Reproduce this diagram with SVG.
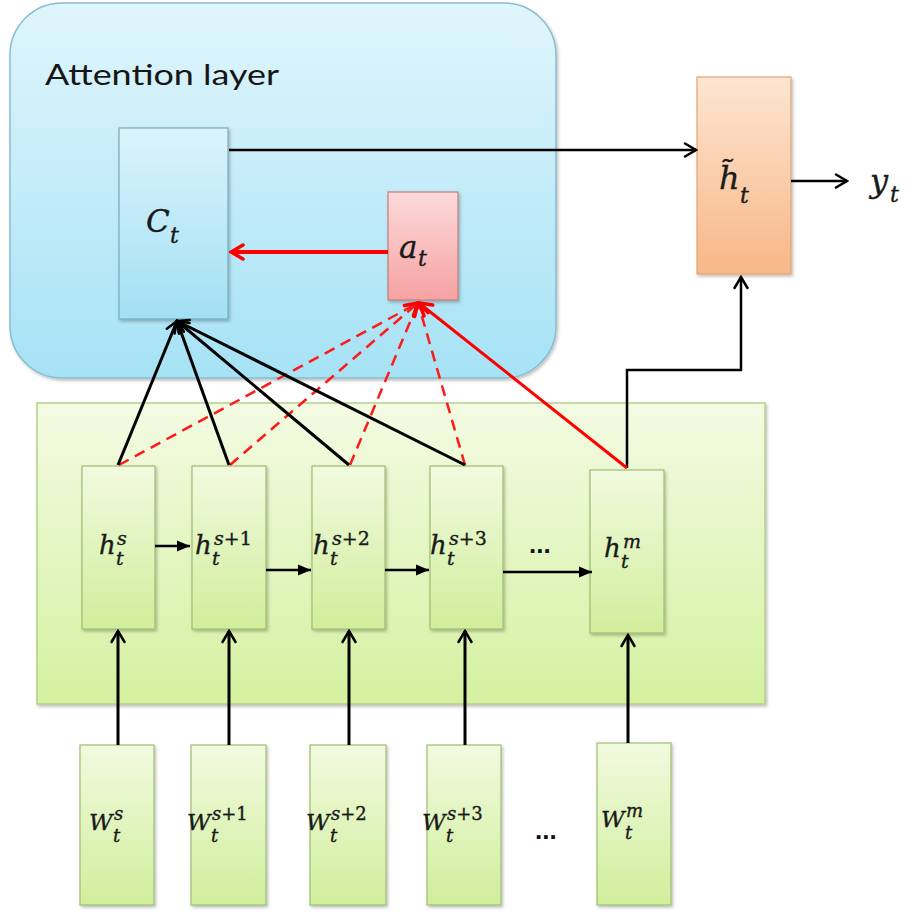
<svg xmlns="http://www.w3.org/2000/svg" width="917" height="912" viewBox="0 0 917 912">
  <defs>
    <linearGradient id="gBlueLayer" x1="0" y1="0" x2="0" y2="1">
      <stop offset="0" stop-color="#e0f5fc"/>
      <stop offset="1" stop-color="#a6e2f5"/>
    </linearGradient>
    <linearGradient id="gBlueBox" x1="0" y1="0" x2="0" y2="1">
      <stop offset="0" stop-color="#dcf4fb"/>
      <stop offset="1" stop-color="#a2e0f3"/>
    </linearGradient>
    <linearGradient id="gPink" x1="0" y1="0" x2="0" y2="1">
      <stop offset="0" stop-color="#fddada"/>
      <stop offset="1" stop-color="#f6a2a2"/>
    </linearGradient>
    <linearGradient id="gOrange" x1="0" y1="0" x2="0" y2="1">
      <stop offset="0" stop-color="#fde5d1"/>
      <stop offset="1" stop-color="#f8b787"/>
    </linearGradient>
    <linearGradient id="gGreenLayer" x1="0" y1="0" x2="0" y2="1">
      <stop offset="0" stop-color="#f3fbe3"/>
      <stop offset="1" stop-color="#d4f1a0"/>
    </linearGradient>
    <linearGradient id="gGreenBox" x1="0" y1="0" x2="0" y2="1">
      <stop offset="0" stop-color="#f1fadf"/>
      <stop offset="1" stop-color="#d0ee9b"/>
    </linearGradient>
    <filter id="shadow" x="-20%" y="-20%" width="140%" height="140%">
      <feDropShadow dx="1.5" dy="2" stdDeviation="1.5" flood-color="#000" flood-opacity="0.25"/>
    </filter>
    <!-- open chevron head, black -->
    <marker id="openBlack" markerUnits="userSpaceOnUse" markerWidth="16" markerHeight="16" viewBox="0 0 16 16" refX="14" refY="8" orient="auto">
      <path d="M3,1.5 L14,8 L3,14.5" fill="none" stroke="#000" stroke-width="2.5" stroke-linecap="round" stroke-linejoin="miter"/>
    </marker>
    <!-- open chevron head, red -->
    <marker id="openRed" markerUnits="userSpaceOnUse" markerWidth="18" markerHeight="18" viewBox="0 0 18 18" refX="16" refY="9" orient="auto">
      <path d="M4,2 L16,9 L4,16" fill="none" stroke="#ff0000" stroke-width="3.5" stroke-linecap="round"/>
    </marker>
    <!-- filled triangle head for the recurrent chain -->
    <marker id="solidBlack" markerUnits="userSpaceOnUse" markerWidth="14" markerHeight="12" viewBox="0 0 14 12" refX="13" refY="6" orient="auto">
      <path d="M0,0.5 L13,6 L0,11.5 Z" fill="#000"/>
    </marker>
  </defs>
  <style>
    .layer-blue { fill: url(#gBlueLayer); stroke: #86bdd0; stroke-width: 1.5; }
    .layer-green { fill: url(#gGreenLayer); stroke: #b3d188; stroke-width: 1.5; }
    .box-blue { fill: url(#gBlueBox); stroke: #74aac0; stroke-width: 1.2; }
    .box-pink { fill: url(#gPink); stroke: #c47c7c; stroke-width: 1.2; }
    .box-orange { fill: url(#gOrange); stroke: #e2a572; stroke-width: 1.2; }
    .box-green { fill: url(#gGreenBox); stroke: #9dbd70; stroke-width: 1.2; }
    .title { font-family: Lato, "Liberation Sans", sans-serif; font-size: 28px; fill: #161616; }
    .math { font-family: "DejaVu Serif", "Liberation Serif", serif; font-style: italic; fill: #1a1a1a; stroke: #1a1a1a; stroke-width: 0.35; }
    .up { font-style: normal; }
    .dots { font-family: "Liberation Sans", sans-serif; font-weight: bold; font-size: 26px; fill: #111; }
    .blk { stroke: #000; stroke-width: 2.5; fill: none; }
    .blk3 { stroke: #000; stroke-width: 3; fill: none; }
    .red { stroke: #ff0000; stroke-width: 3; fill: none; }
    .red-thick { stroke: #ff0000; stroke-width: 4; fill: none; }
    .red-dash { stroke: #ff1a1a; stroke-width: 2.5; fill: none; stroke-dasharray: 11 7; }
  </style>

  <!-- containers -->
  <g id="attention-layer">
    <rect class="layer-blue" x="10" y="3" width="546" height="375" rx="52" ry="52" filter="url(#shadow)"/>
    <text class="title" x="45" y="85" textLength="234" lengthAdjust="spacingAndGlyphs">Attention layer</text>
  </g>
  <g id="encoder-layer">
    <rect class="layer-green" x="37" y="403" width="728" height="301" filter="url(#shadow)"/>
  </g>

  <!-- attention nodes -->
  <g id="node-c">
    <rect class="box-blue" x="119" y="128" width="109" height="191" filter="url(#shadow)"/>
    <text class="math" font-size="31"><tspan x="146" y="232">C</tspan><tspan x="170" y="243" font-size="22">t</tspan></text>
  </g>
  <g id="node-a">
    <rect class="box-pink" x="388" y="192" width="70" height="108" filter="url(#shadow)"/>
    <text class="math" font-size="31"><tspan x="399" y="258">a</tspan><tspan x="418" y="266" font-size="22">t</tspan></text>
  </g>
  <g id="node-htilde">
    <rect class="box-orange" x="697" y="77" width="94" height="197" filter="url(#shadow)"/>
    <text class="math" font-size="32"><tspan x="719" y="189">h̃</tspan><tspan x="740" y="203" font-size="22">t</tspan></text>
  </g>
  <g id="output-y">
    <text class="math" font-size="32"><tspan x="870" y="192">y</tspan><tspan x="890" y="202" font-size="22">t</tspan></text>
  </g>

  <!-- hidden state nodes -->
  <g id="node-h-s">
    <rect class="box-green" x="82" y="466" width="73" height="163" filter="url(#shadow)"/>
    <text class="math" font-size="26"><tspan x="99" y="554">h</tspan><tspan x="117" y="545" font-size="19">s</tspan><tspan x="116" y="565" font-size="19">t</tspan></text>
  </g>
  <g id="node-h-s1">
    <rect class="box-green" x="192" y="466" width="74" height="163" filter="url(#shadow)"/>
    <text class="math" font-size="26"><tspan x="195" y="554">h</tspan><tspan x="214" y="545" font-size="19">s<tspan class="up">+1</tspan></tspan><tspan x="212" y="565" font-size="19">t</tspan></text>
  </g>
  <g id="node-h-s2">
    <rect class="box-green" x="312" y="466" width="73" height="163" filter="url(#shadow)"/>
    <text class="math" font-size="26"><tspan x="313" y="554">h</tspan><tspan x="332" y="545" font-size="19">s<tspan class="up">+2</tspan></tspan><tspan x="330" y="565" font-size="19">t</tspan></text>
  </g>
  <g id="node-h-s3">
    <rect class="box-green" x="430" y="466" width="73" height="163" filter="url(#shadow)"/>
    <text class="math" font-size="26"><tspan x="430" y="554">h</tspan><tspan x="449" y="545" font-size="19">s<tspan class="up">+3</tspan></tspan><tspan x="447" y="565" font-size="19">t</tspan></text>
  </g>
  <text class="dots" x="529" y="553">...</text>
  <g id="node-h-m">
    <rect class="box-green" x="590" y="470" width="74" height="163" filter="url(#shadow)"/>
    <text class="math" font-size="26"><tspan x="604" y="557">h</tspan><tspan x="623" y="548" font-size="19">m</tspan><tspan x="621" y="568" font-size="19">t</tspan></text>
  </g>

  <!-- input nodes -->
  <g id="node-w-s">
    <rect class="box-green" x="80" y="745" width="74" height="160" filter="url(#shadow)"/>
    <text class="math" font-size="23"><tspan x="89" y="830">W</tspan><tspan x="114" y="820" font-size="18">s</tspan><tspan x="113" y="842" font-size="18">t</tspan></text>
  </g>
  <g id="node-w-s1">
    <rect class="box-green" x="191" y="745" width="75" height="160" filter="url(#shadow)"/>
    <text class="math" font-size="23"><tspan x="187" y="830">W</tspan><tspan x="212" y="820" font-size="18">s<tspan class="up">+1</tspan></tspan><tspan x="211" y="842" font-size="18">t</tspan></text>
  </g>
  <g id="node-w-s2">
    <rect class="box-green" x="310" y="745" width="76" height="160" filter="url(#shadow)"/>
    <text class="math" font-size="23"><tspan x="306" y="830">W</tspan><tspan x="331" y="820" font-size="18">s<tspan class="up">+2</tspan></tspan><tspan x="330" y="842" font-size="18">t</tspan></text>
  </g>
  <g id="node-w-s3">
    <rect class="box-green" x="427" y="745" width="74" height="160" filter="url(#shadow)"/>
    <text class="math" font-size="23"><tspan x="422" y="830">W</tspan><tspan x="447" y="820" font-size="18">s<tspan class="up">+3</tspan></tspan><tspan x="446" y="842" font-size="18">t</tspan></text>
  </g>
  <text class="dots" x="535" y="839">...</text>
  <g id="node-w-m">
    <rect class="box-green" x="597" y="743" width="74" height="162" filter="url(#shadow)"/>
    <text class="math" font-size="23"><tspan x="601" y="827">W</tspan><tspan x="626" y="817" font-size="18">m</tspan><tspan x="625" y="839" font-size="18">t</tspan></text>
  </g>

  <!-- connectors -->
  <g id="connectors">
    <!-- context to combined state, and output -->
    <line class="blk" x1="229" y1="150" x2="696" y2="150" marker-end="url(#openBlack)"/>
    <line class="blk" x1="791" y1="181" x2="847" y2="181" marker-end="url(#openBlack)"/>
    <polyline class="blk" points="627,468 627,370 741,370 741,277" marker-end="url(#openBlack)"/>

    <!-- attention weights into context -->
    <line class="red-thick" x1="388" y1="252" x2="231" y2="252" marker-end="url(#openRed)"/>

    <!-- hidden states into attention weights -->
    <line class="red-dash" x1="119" y1="465" x2="418" y2="303"/>
    <line class="red-dash" x1="230" y1="465" x2="418" y2="303"/>
    <line class="red-dash" x1="350" y1="465" x2="418" y2="303"/>
    <line class="red-dash" x1="465" y1="465" x2="418" y2="303"/>
    <line class="red" x1="627" y1="468" x2="419" y2="303" marker-end="url(#openRed)"/>
    <line class="red" x1="465" y1="465" x2="418" y2="303" stroke-opacity="0" marker-end="url(#openRed)"/>
    <line class="red" x1="230" y1="465" x2="418" y2="303" stroke-opacity="0" marker-end="url(#openRed)"/>

    <!-- hidden states into context -->
    <line class="blk3" x1="118" y1="465" x2="177" y2="321" marker-end="url(#openBlack)"/>
    <line class="blk3" x1="229" y1="465" x2="177" y2="321" marker-end="url(#openBlack)"/>
    <line class="blk3" x1="349" y1="465" x2="177" y2="321" marker-end="url(#openBlack)"/>
    <line class="blk3" x1="465" y1="465" x2="177" y2="321" marker-end="url(#openBlack)"/>

    <!-- recurrent chain -->
    <line class="blk" x1="155" y1="546" x2="190" y2="546" marker-end="url(#solidBlack)"/>
    <line class="blk" x1="266" y1="570" x2="311" y2="570" marker-end="url(#solidBlack)"/>
    <line class="blk" x1="385" y1="570" x2="429" y2="570" marker-end="url(#solidBlack)"/>
    <line class="blk" x1="503" y1="572" x2="592" y2="572" marker-end="url(#solidBlack)"/>

    <!-- inputs into hidden states -->
    <line class="blk3" x1="118" y1="745" x2="118" y2="631" marker-end="url(#openBlack)"/>
    <line class="blk3" x1="229" y1="745" x2="229" y2="631" marker-end="url(#openBlack)"/>
    <line class="blk3" x1="349" y1="745" x2="349" y2="631" marker-end="url(#openBlack)"/>
    <line class="blk3" x1="465" y1="745" x2="465" y2="631" marker-end="url(#openBlack)"/>
    <line class="blk3" x1="628" y1="743" x2="628" y2="635" marker-end="url(#openBlack)"/>
  </g>
</svg>
